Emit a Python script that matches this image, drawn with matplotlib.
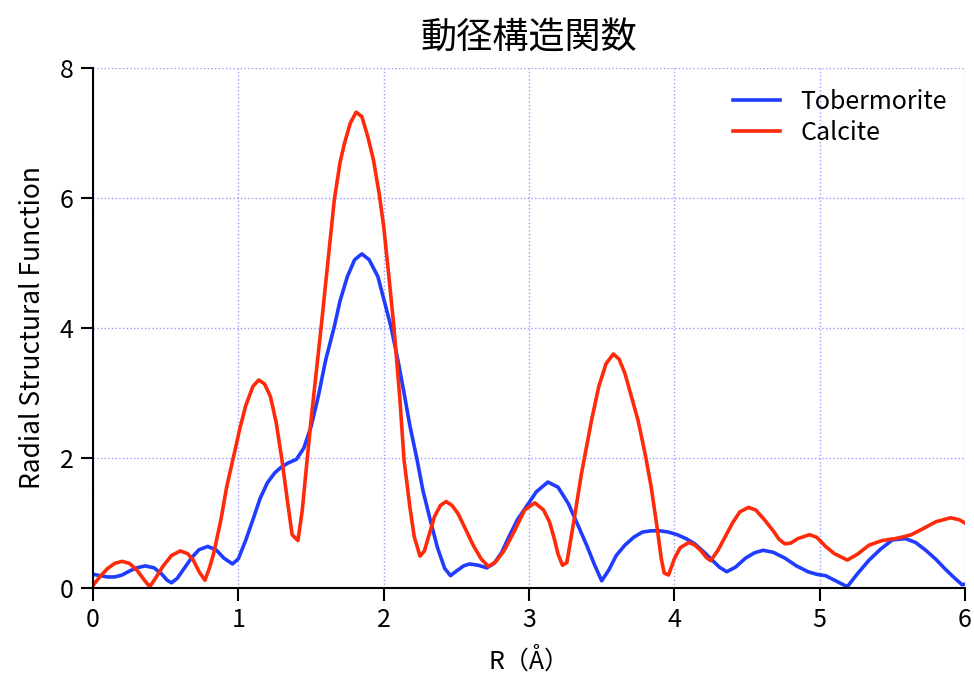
import matplotlib
matplotlib.use("Agg")
import matplotlib.pyplot as plt

plt.rcParams['font.family'] = ['Noto Sans CJK JP', 'DejaVu Sans']

# Tobermorite
tob_r = [0.00, 0.05, 0.10, 0.15, 0.20, 0.25, 0.30, 0.36, 0.42, 0.47, 0.51, 0.54, 0.58, 0.63,
         0.68, 0.73, 0.79, 0.85, 0.90, 0.96, 1.00, 1.05, 1.10, 1.15, 1.20, 1.25, 1.29, 1.34,
         1.40, 1.45, 1.50, 1.55, 1.60, 1.66, 1.70, 1.75, 1.80, 1.85, 1.90, 1.96, 2.00, 2.05,
         2.10, 2.14, 2.18, 2.23, 2.27, 2.32, 2.37, 2.42, 2.46, 2.50, 2.55, 2.59, 2.65, 2.71,
         2.76, 2.81, 2.86, 2.92, 2.99, 3.05, 3.13, 3.20, 3.27, 3.33, 3.40, 3.45, 3.50, 3.55,
         3.60, 3.66, 3.72, 3.78, 3.84, 3.90, 3.96, 4.02, 4.08, 4.14, 4.20, 4.26, 4.31, 4.36,
         4.42, 4.49, 4.55, 4.61, 4.68, 4.76, 4.84, 4.92, 4.98, 5.04, 5.11, 5.19, 5.26, 5.34,
         5.42, 5.50, 5.59, 5.66, 5.73, 5.80, 5.86, 5.92, 5.98, 6.00]
tob_g = [0.21, 0.19, 0.17, 0.17, 0.20, 0.26, 0.31, 0.34, 0.31, 0.22, 0.12, 0.08, 0.15, 0.31,
         0.47, 0.59, 0.64, 0.58, 0.46, 0.37, 0.45, 0.73, 1.05, 1.38, 1.62, 1.77, 1.85, 1.92,
         1.98, 2.15, 2.48, 2.95, 3.50, 4.02, 4.42, 4.79, 5.05, 5.14, 5.05, 4.79, 4.45, 4.02,
         3.48, 3.00, 2.50, 1.97, 1.50, 1.05, 0.62, 0.30, 0.19, 0.26, 0.34, 0.37, 0.35, 0.31,
         0.38, 0.54, 0.78, 1.05, 1.28, 1.48, 1.63, 1.55, 1.30, 1.00, 0.64, 0.36, 0.11, 0.28,
         0.50, 0.66, 0.78, 0.86, 0.88, 0.88, 0.86, 0.82, 0.76, 0.68, 0.56, 0.43, 0.32, 0.25,
         0.32, 0.46, 0.54, 0.58, 0.55, 0.46, 0.34, 0.25, 0.21, 0.19, 0.11, 0.02, 0.22, 0.43,
         0.60, 0.74, 0.76, 0.70, 0.58, 0.44, 0.30, 0.17, 0.05, 0.06]

# Calcite
cal_r = [0.00, 0.05, 0.10, 0.15, 0.20, 0.25, 0.30, 0.35, 0.39, 0.43, 0.48, 0.54, 0.60, 0.65,
         0.69, 0.73, 0.77, 0.80, 0.83, 0.88, 0.92, 0.97, 1.01, 1.05, 1.10, 1.14, 1.18, 1.22,
         1.26, 1.30, 1.34, 1.37, 1.41, 1.44, 1.47, 1.50, 1.54, 1.57, 1.62, 1.66, 1.70, 1.73,
         1.77, 1.81, 1.85, 1.89, 1.93, 1.97, 2.00, 2.04, 2.07, 2.11, 2.14, 2.18, 2.21, 2.25,
         2.28, 2.31, 2.35, 2.39, 2.43, 2.47, 2.51, 2.56, 2.62, 2.67, 2.72, 2.77, 2.83, 2.90,
         2.97, 3.04, 3.10, 3.14, 3.17, 3.20, 3.23, 3.26, 3.31, 3.36, 3.43, 3.48, 3.53, 3.58,
         3.62, 3.66, 3.70, 3.75, 3.80, 3.84, 3.88, 3.91, 3.93, 3.96, 4.00, 4.04, 4.10, 4.14,
         4.18, 4.22, 4.25, 4.30, 4.35, 4.40, 4.45, 4.51, 4.56, 4.62, 4.68, 4.72, 4.76, 4.80,
         4.85, 4.93, 4.98, 5.04, 5.10, 5.19, 5.26, 5.34, 5.43, 5.52, 5.58, 5.63, 5.70, 5.80,
         5.90, 5.96, 6.00]
cal_g = [0.04, 0.18, 0.30, 0.38, 0.41, 0.38, 0.28, 0.13, 0.02, 0.15, 0.33, 0.50, 0.57, 0.53,
         0.43, 0.25, 0.12, 0.30, 0.53, 1.05, 1.56, 2.05, 2.45, 2.80, 3.10, 3.20, 3.14, 2.95,
         2.55, 1.97, 1.30, 0.82, 0.73, 1.20, 1.90, 2.58, 3.40, 4.02, 5.10, 5.97, 6.55, 6.84,
         7.15, 7.32, 7.25, 6.95, 6.58, 6.05, 5.56, 4.70, 4.02, 2.95, 1.97, 1.25, 0.79, 0.49,
         0.57, 0.80, 1.10, 1.27, 1.33, 1.27, 1.15, 0.92, 0.64, 0.45, 0.33, 0.40, 0.58, 0.88,
         1.20, 1.31, 1.20, 1.02, 0.79, 0.52, 0.35, 0.39, 1.05, 1.75, 2.58, 3.10, 3.45, 3.60,
         3.52, 3.30, 2.98, 2.58, 2.05, 1.56, 0.95, 0.45, 0.23, 0.20, 0.45, 0.62, 0.70, 0.66,
         0.58, 0.47, 0.42, 0.58, 0.79, 1.00, 1.17, 1.24, 1.20, 1.05, 0.88, 0.75, 0.68, 0.69,
         0.76, 0.82, 0.78, 0.64, 0.53, 0.43, 0.52, 0.66, 0.73, 0.76, 0.79, 0.82, 0.90, 1.02,
         1.08, 1.05, 1.00]

fig = plt.figure(figsize=(9.74, 6.73), dpi=100)
ax = fig.add_axes([0.0955, 0.1263, 0.8953, 0.7727])

ax.plot(tob_r, tob_g, color="#1f3cff", lw=2.6, label="Tobermorite")
ax.plot(cal_r, cal_g, color="#ff2a0a", lw=2.6, label="Calcite")

ax.set_xlim(0, 6)
ax.set_ylim(0, 8)
ax.set_xticks(range(0, 7))
ax.set_yticks(range(0, 9, 2))
ax.grid(True, color="#9a9aff", linestyle=":", linewidth=1)
ax.spines["top"].set_visible(False)
ax.spines["right"].set_visible(False)
ax.spines["left"].set_linewidth(1.5)
ax.spines["bottom"].set_linewidth(1.5)
ax.tick_params(direction="out", length=9, width=1.5, labelsize=18, pad=5)

ax.set_title("動径構造関数", fontsize=26, pad=14)
ax.set_xlabel("R（Å）", fontsize=18, labelpad=10)
ax.set_ylabel("Radial Structural Function", fontsize=19, labelpad=10)

ax.legend(loc="upper right", frameon=False, fontsize=18, handlelength=1.9,
          handletextpad=0.8, labelspacing=0.2, bbox_to_anchor=(1.005, 1.003))

fig.savefig("out.png", dpi=100)
